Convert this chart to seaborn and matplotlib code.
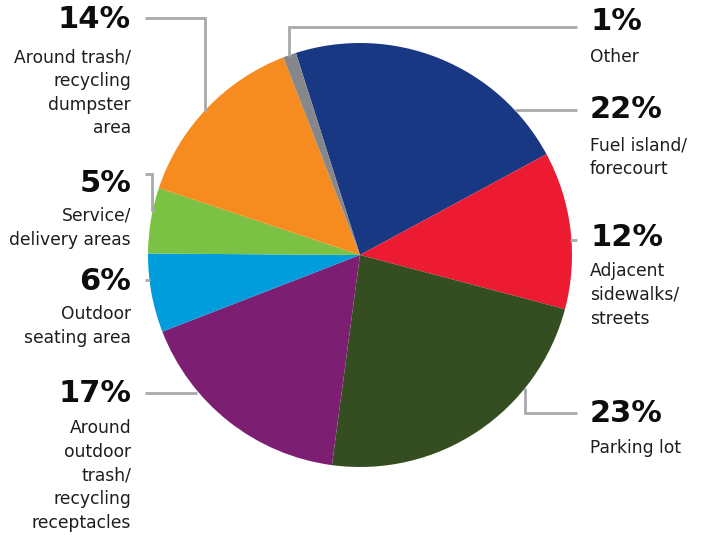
import matplotlib
matplotlib.use("Agg")
import matplotlib.pyplot as plt
import seaborn as sns

# ---- data ----
categories = ["Fuel island/\nforecourt", "Adjacent\nsidewalks/\nstreets", "Parking lot",
              "Around\noutdoor\ntrash/\nrecycling\nreceptacles", "Outdoor\nseating area",
              "Service/\ndelivery areas", "Around trash/\nrecycling\ndumpster\narea", "Other"]
values = [22, 12, 23, 17, 6, 5, 14, 1]
pct_labels = ["22%", "12%", "23%", "17%", "6%", "5%", "14%", "1%"]
colors = ["#183884", "#ec1b32", "#344e22", "#7c1f72", "#009cdc", "#7bc143", "#f68c1f", "#85878a"]

sns.set_theme(style="white")
plt.rcParams['font.family'] = ['DejaVu Sans']

W, H = 712, 535
fig = plt.figure(figsize=(W / 100, H / 100), dpi=100)
ax = fig.add_axes([0, 0, 1, 1])
ax.set_xlim(0, W)
ax.set_ylim(0, H)
ax.axis("off")

def Y(y):
    return H - y

cx, cy, r = 360, 255, 212
ax.pie(values, colors=sns.color_palette(colors), startangle=107.6, counterclock=False,
       center=(cx, Y(cy)), radius=r, frame=True,
       wedgeprops=dict(linewidth=0, antialiased=True))
ax.set_xlim(0, W)
ax.set_ylim(0, H)
ax.set_aspect("auto")
ax.axis("off")

lc = "#a7a9ac"
lw = 2.0
leaders = [
    [(145, 18), (205, 18), (205, 111)],          # 14%
    [(577, 27), (289, 27), (289, 56)],           # 1%
    [(515, 110), (577, 110)],                    # 22%
    [(570, 240), (577, 240)],                    # 12%
    [(525, 388), (525, 413), (577, 413)],        # 23%
    [(145, 174), (152, 174), (152, 210), (155, 210)],  # 5%
    [(145, 280), (150, 280)],                    # 6%
    [(145, 393), (197, 393)],                    # 17%
]
for pts in leaders:
    ax.plot([p[0] for p in pts], [Y(p[1]) for p in pts], color=lc, lw=lw,
            solid_capstyle="butt", solid_joinstyle="miter", zorder=1)

# label positions: (x, y_pct, y_first_label_line, ha)
pos = {
    0: (590, 110, 145, "left"),
    1: (590, 237, 271, "left"),
    2: (590, 413, 448, "left"),
    3: (131, 393, 428, "right"),
    4: (131, 282, 314, "right"),
    5: (131, 183, 216, "right"),
    6: (131, 20, 57, "right"),
    7: (590, 22, 57, "left"),
}
for i, (x, yp, yl, ha) in pos.items():
    ax.text(x, Y(yp), pct_labels[i], ha=ha, va="center", fontsize=22,
            fontweight="bold", color="#0d0d0d")
    for k, line in enumerate(categories[i].split("\n")):
        ax.text(x, Y(yl + 23.8 * k), line, ha=ha, va="center", fontsize=12.3,
                color="#1e1e1e")

fig.savefig("out.png", dpi=100, facecolor="white")
